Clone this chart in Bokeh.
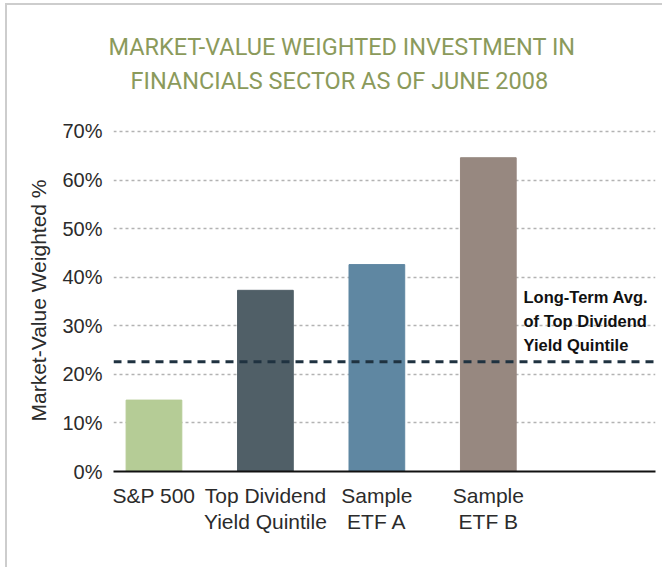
from bokeh.plotting import figure
from bokeh.models import (ColumnDataSource, FixedTicker, PrintfTickFormatter,
                          Span, Label, Range1d, Title)
from bokeh.embed import file_html
from bokeh.resources import INLINE

# ---- data ----
categories = ["S&P 500", "Top Dividend\nYield Quintile", "Sample\nETF A", "Sample\nETF B"]
values = [14.7, 37.3, 42.6, 64.6]
bar_colors = ["#b5cc96", "#505f67", "#5f87a2", "#978880"]
y_ticks = [0, 10, 20, 30, 40, 50, 60, 70]
long_term_avg = 22.6
avg_note = "Long-Term Avg.\nof Top Dividend\nYield Quintile"
title_lines = ["MARKET-VALUE WEIGHTED INVESTMENT IN", "FINANCIALS SECTOR AS OF JUNE 2008"]
y_title = "Market-Value Weighted %"

xs = list(range(len(categories)))
src = ColumnDataSource(dict(x=xs, top=values, color=bar_colors))

p = figure(width=657, height=564, output_backend="svg", toolbar_location=None,
           x_range=Range1d(-0.363, 4.5), y_range=Range1d(0, 70.41),
           min_border_left=106, min_border_right=9, min_border_top=124,
           min_border_bottom=98)
p.background_fill_color = "white"
p.border_fill_color = "white"
p.outline_line_color = None

p.vbar(x="x", top="top", width=0.5, bottom=0, color="color", source=src)

# axes
p.xaxis.ticker = FixedTicker(ticks=xs)
p.xaxis.major_label_overrides = {i: c for i, c in zip(xs, categories)}
p.xaxis.major_tick_line_color = None
p.xaxis.minor_tick_line_color = None
p.xaxis.axis_line_color = "#111111"
p.xaxis.axis_line_width = 2
p.xaxis.major_label_text_font = "Liberation Sans"
p.xaxis.major_label_text_font_size = "21px"
p.xaxis.major_label_text_color = "#2b2b2b"
p.xaxis.major_label_text_line_height = 1.15
p.xaxis.major_label_standoff = 6

p.yaxis.ticker = FixedTicker(ticks=y_ticks)
p.yaxis.formatter = PrintfTickFormatter(format="%d%%")
p.yaxis.axis_line_color = None
p.yaxis.major_tick_line_color = None
p.yaxis.minor_tick_line_color = None
p.yaxis.major_label_text_font = "Liberation Sans"
p.yaxis.major_label_text_font_size = "20px"
p.yaxis.major_label_text_color = "#2b2b2b"
p.yaxis.major_label_standoff = 5
p.yaxis.axis_label = y_title
p.yaxis.axis_label_text_font = "Liberation Sans"
p.yaxis.axis_label_text_font_style = "normal"
p.yaxis.axis_label_text_font_size = "21px"
p.yaxis.axis_label_text_color = "#2b2b2b"
p.yaxis.axis_label_standoff = 9

p.xgrid.grid_line_color = None
p.ygrid.grid_line_color = "#b3b3b3"
p.ygrid.grid_line_width = 1.5
p.ygrid.grid_line_dash = "3 3"

# long-term average line
p.add_layout(Span(location=long_term_avg, dimension="width", line_color="#1f3240",
                  line_width=3, line_dash="8 6"))

p.add_layout(Label(x=410, y=117, x_units="screen", y_units="screen", text=avg_note,
                   text_font="Liberation Sans", text_font_style="bold",
                   text_font_size="16.5px", text_color="#111111",
                   text_line_height=1.35, text_baseline="bottom", text_align="left"))

# title, two lines (the inner one is added first)
p.add_layout(Title(text=title_lines[1], align="left", offset=17, text_font="Roboto",
                   text_font_size="23.5px", text_font_style="normal",
                   text_color="#8b9a5b", standoff=70), "above")
p.add_layout(Title(text=title_lines[0], align="left", offset=-5, text_font="Roboto",
                   text_font_size="23.5px", text_font_style="normal",
                   text_color="#8b9a5b", standoff=-63), "above")

p.styles = {"border-top": "2px solid #cdcdcd", "border-left": "2px solid #cdcdcd",
            "margin-top": "3px", "margin-left": "5px"}

open("out.html", "w").write(file_html(p, INLINE))
